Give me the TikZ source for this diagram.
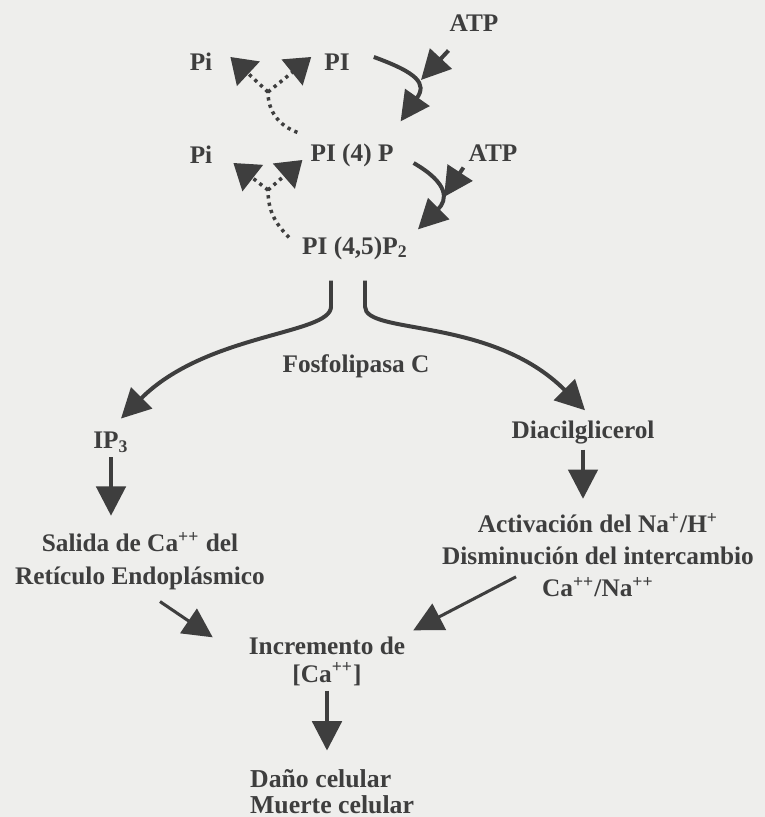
\documentclass[tikz,border=0pt]{standalone}
\usepackage{fontspec}
\setmainfont{Liberation Serif}
\usetikzlibrary{arrows.meta}
\definecolor{ink}{RGB}{62,62,62}
\definecolor{paper}{RGB}{238,238,236}

\begin{document}
\begin{tikzpicture}[x=0.015cm,y=0.015cm,
  chem/.style={text=ink,font=\fontsize{10.8}{13.6}\selectfont\bfseries,inner sep=2pt,align=center},
  flow/.style={draw=ink,line width=1.7pt,-{Triangle[length=12.5pt,width=12.5pt]}},
  dotstem/.style={draw=ink,line width=1.5pt,dash pattern=on 1.4pt off 1.8pt},
  dotflow/.style={dotstem,-{Triangle[length=10.5pt,width=14pt]}}]
  \fill[paper] (0,0) rectangle (765,-817);
  \useasboundingbox (0,0) rectangle (765,-817);
  % inositol phosphates
  \node[chem] (atpA) at (474,-23) {ATP};
  \node[chem] (piA) at (201,-62) {Pi};
  \node[chem] (piB) at (337,-62) {PI};
  \node[chem] (piC) at (201,-155) {Pi};
  \node[chem] (pi4p) at (352,-155) {PI (4) P};
  \node[chem] (atpB) at (493,-153) {ATP};
  \node[chem] (pi45) at (355,-248) {PI (4,5)P\textsubscript{2}};
  \node[chem] (fosf) at (356,-366) {Fosfolipasa C};
  % second messengers
  \node[chem] (ip3) at (111,-442) {IP\textsubscript{3}};
  \node[chem] (diac) at (583,-433) {Diacilglicerol};
  \node[chem,font=\fontsize{10.8}{13.7}\selectfont\bfseries] (salida) at (140,-561)
    {Salida de Ca\textsuperscript{++} del\\Retículo Endoplásmico};
  \node[chem] (activ) at (598,-555)
    {Activación del Na\textsuperscript{+}/H\textsuperscript{+}\\Disminución del intercambio\\Ca\textsuperscript{++}/Na\textsuperscript{++}};
  \node[chem,font=\fontsize{10.8}{12}\selectfont\bfseries] (incr) at (327,-661)
    {Incremento de\\{[Ca\textsuperscript{++}]}};
  \node[chem,align=left,anchor=west,font=\fontsize{11}{11.2}\selectfont\bfseries] (dano) at (245,-792)
    {Daño celular\\Muerte celular};

  % kinase steps
  \draw[flow,looseness=1.7] ([shift={(19,5)}]piB.east) to[out=-20,in=55] ([shift={(2,17)}]pi4p.north east);
  \coordinate (k1) at (421,-80);
  \draw[flow] ([shift={(4,-14)}]atpA.south west) -- (k1);
  \draw[flow,looseness=1.6] ([shift={(15,-8)}]pi4p.east) to[out=-30,in=45] ([shift={(5,2)}]pi45.north east);
  \coordinate (k2) at (444,-197);
  \draw[flow] ([shift={(0,-1)}]atpB.south west) -- (k2);

  % phosphatase steps
  \coordinate (brA) at (268,-92);
  \draw[dotstem] ([shift={(-8,6)}]pi4p.north west) to[out=160,in=-90] (brA);
  \draw[dotflow] (brA) -- ([shift={(13,5)}]piA.east);
  \draw[dotflow] (brA) -- ([shift={(-8,5)}]piB.west);
  \coordinate (brB) at (268,-190);
  \draw[dotstem] ([shift={(-8,-6)}]pi45.north west) to[out=135,in=-90] (brB);
  \draw[dotflow] (brB) -- ([shift={(16,-8)}]piC.east);
  \draw[dotflow] (brB) -- ([shift={(-3,-5)}]pi4p.west);

  % phospholipase C split
  \draw[flow] ([shift={(-24,-16)}]pi45.south) -- ++(0,-26)
    to[out=-90,in=45,out looseness=0.3,in looseness=1.3] ([shift={(10,8)}]ip3.north);
  \draw[flow] ([shift={(10,-16)}]pi45.south) -- ++(0,-26)
    to[out=-90,in=135,out looseness=0.3,in looseness=1.4] ([shift={(2,6)}]diac.north);

  % calcium
  \draw[flow,shorten >=5pt] (ip3) -- (ip3 |- salida.north);
  \draw[flow,shorten >=4pt] (diac) -- (diac |- activ.north);
  \draw[flow,line width=1.3pt] ([shift={(20,-7)}]salida.south) -- ([shift={(-31,-6)}]incr.north west);
  \draw[flow,line width=1.3pt] ([shift={(79,25)}]activ.south west) -- ([shift={(3,1)}]incr.north east);
  \draw[flow,shorten >=6pt] (incr) -- (incr |- dano.north);
\end{tikzpicture}
\end{document}
